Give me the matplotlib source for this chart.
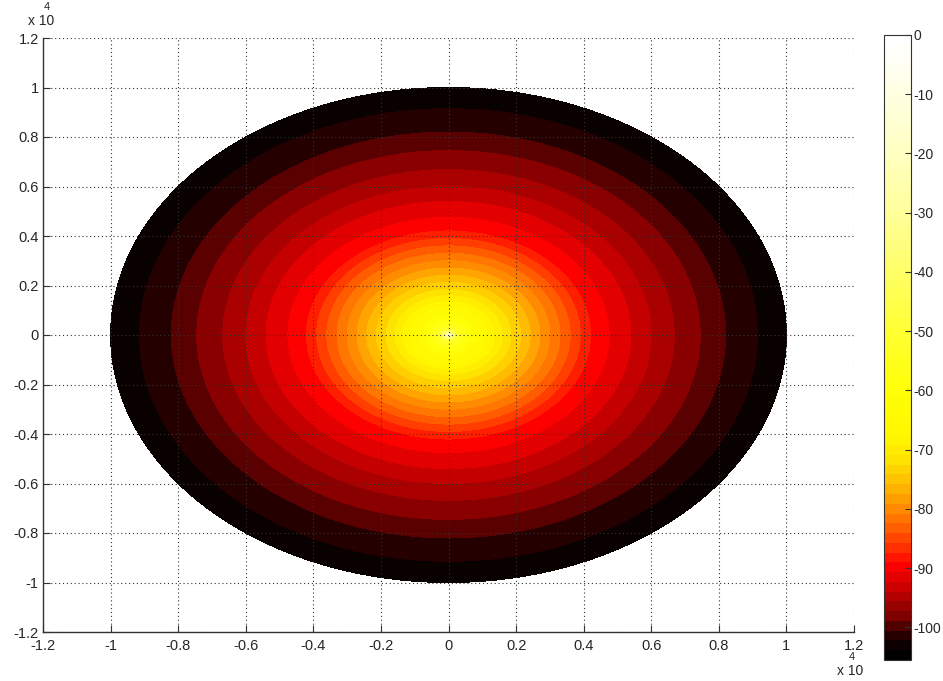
import numpy as np
import matplotlib
matplotlib.use("Agg")
import matplotlib.pyplot as plt
from matplotlib.colors import LinearSegmentedColormap, Normalize
from matplotlib.cm import ScalarMappable

# ---- data ----
# radial profile of the field (radius in units of 1e4, level in dB)
profile_radius = [0.0, 0.004, 0.01, 0.03, 0.09, 0.17, 0.285, 0.42, 0.475,
                  0.54, 0.60, 0.668, 0.745, 0.82, 0.914, 1.0]
profile_level = [0.0, -20.0, -40.0, -55.0, -65.0, -72.0, -80.0, -89.0, -91.0,
                 -93.0, -95.0, -97.0, -99.0, -101.0, -103.0, -104.0]
disk_radius = 1.0e4

# colour scale (value -> colour)
cmap_values = [-105.5, -103, -101, -99, -97, -95, -93, -90, -88, -84, -80,
               -76, -72, -68, -60, -50, -40, -30, -20, -10, 0]
cmap_colors = [(0.00, 0, 0), (0.07, 0, 0), (0.26, 0, 0), (0.48, 0, 0),
               (0.61, 0, 0), (0.73, 0, 0), (0.85, 0, 0), (1.0, 0.0, 0),
               (1.0, 0.13, 0), (1.0, 0.36, 0), (1.0, 0.56, 0), (1.0, 0.74, 0),
               (1.0, 0.89, 0), (1.0, 0.97, 0), (1.0, 1.0, 0.03),
               (1.0, 1.0, 0.2), (1.0, 1.0, 0.4), (1.0, 1.0, 0.6),
               (1.0, 1.0, 0.75), (1.0, 1.0, 0.88), (1.0, 1.0, 1.0)]
clim = (-105.5, 0.0)
contour_levels = np.arange(-105, 1, 2)

ticks_xy = [-1.2, -1.0, -0.8, -0.6, -0.4, -0.2, 0.0, 0.2, 0.4, 0.6, 0.8, 1.0, 1.2]
tick_labels = ["-1.2", "-1", "-0.8", "-0.6", "-0.4", "-0.2", "0",
               "0.2", "0.4", "0.6", "0.8", "1", "1.2"]
cbar_ticks = [0, -10, -20, -30, -40, -50, -60, -70, -80, -90, -100]

# ---- build colormap ----
pos = [(v - clim[0]) / (clim[1] - clim[0]) for v in cmap_values]
cmap = LinearSegmentedColormap.from_list("hotlike", list(zip(pos, cmap_colors)), N=256)
norm = Normalize(vmin=clim[0], vmax=clim[1])

# ---- field on a polar grid ----
r = np.linspace(0, 1.0, 400)
th = np.linspace(0, 2 * np.pi, 361)
R, TH = np.meshgrid(r, th)
Z = np.interp(R, profile_radius, profile_level)
X = R * np.cos(TH) * disk_radius
Y = R * np.sin(TH) * disk_radius

W, H = 943, 681
fig = plt.figure(figsize=(W / 100, H / 100), dpi=100)
plt.rcParams['font.family'] = ['Liberation Sans', 'DejaVu Sans']
txtc = '#262626'

ax = fig.add_axes([43 / W, 1 - 632 / H, (854 - 43) / W, (632 - 38) / H])
ax.contourf(X, Y, Z, levels=contour_levels, cmap=cmap, norm=norm, antialiased=False)
ax.set_xlim(-1.2e4, 1.2e4)
ax.set_ylim(-1.2e4, 1.2e4)
ax.set_xticks([t * 1e4 for t in ticks_xy])
ax.set_yticks([t * 1e4 for t in ticks_xy])
ax.set_xticklabels(tick_labels)
ax.set_yticklabels(tick_labels)
ax.grid(True, linestyle=(0, (1, 2.5)), color='#333333', linewidth=0.8)
ax.set_axisbelow(False)
for s in ['top', 'right']:
    ax.spines[s].set_visible(False)
for s in ['left', 'bottom']:
    ax.spines[s].set_color('#333333')
    ax.spines[s].set_linewidth(1.0)
ax.tick_params(direction='in', length=5, width=0.8, color='#333333',
               labelsize=10.5, labelcolor=txtc, pad=3)
ax.tick_params(axis='x', pad=5)

# exponent labels
fig.text(28 / W, 1 - 21 / H, "x 10", fontsize=10, color=txtc, va='center', ha='left')
fig.text(44 / W, 1 - 7 / H, "4", fontsize=8, color=txtc, va='center', ha='left')
fig.text(837 / W, 1 - 671 / H, "x 10", fontsize=10, color=txtc, va='center', ha='left')
fig.text(849 / W, 1 - 657 / H, "4", fontsize=8, color=txtc, va='center', ha='left')

# colorbar
cax = fig.add_axes([884 / W, 1 - 660 / H, (911 - 884) / W, (660 - 35) / H])
sm = ScalarMappable(norm=norm, cmap=LinearSegmentedColormap.from_list(
    "hotlike64", list(zip(pos, cmap_colors)), N=64))
cb = fig.colorbar(sm, cax=cax, ticks=cbar_ticks)
cb.outline.set_edgecolor('#333333')
cb.outline.set_linewidth(0.8)
cax.tick_params(direction='in', length=4, width=0.8, color='#333333',
                labelsize=10, labelcolor=txtc, pad=1.5)
cax.set_yticklabels([str(t) for t in cbar_ticks])

fig.savefig("out.png", dpi=100)
